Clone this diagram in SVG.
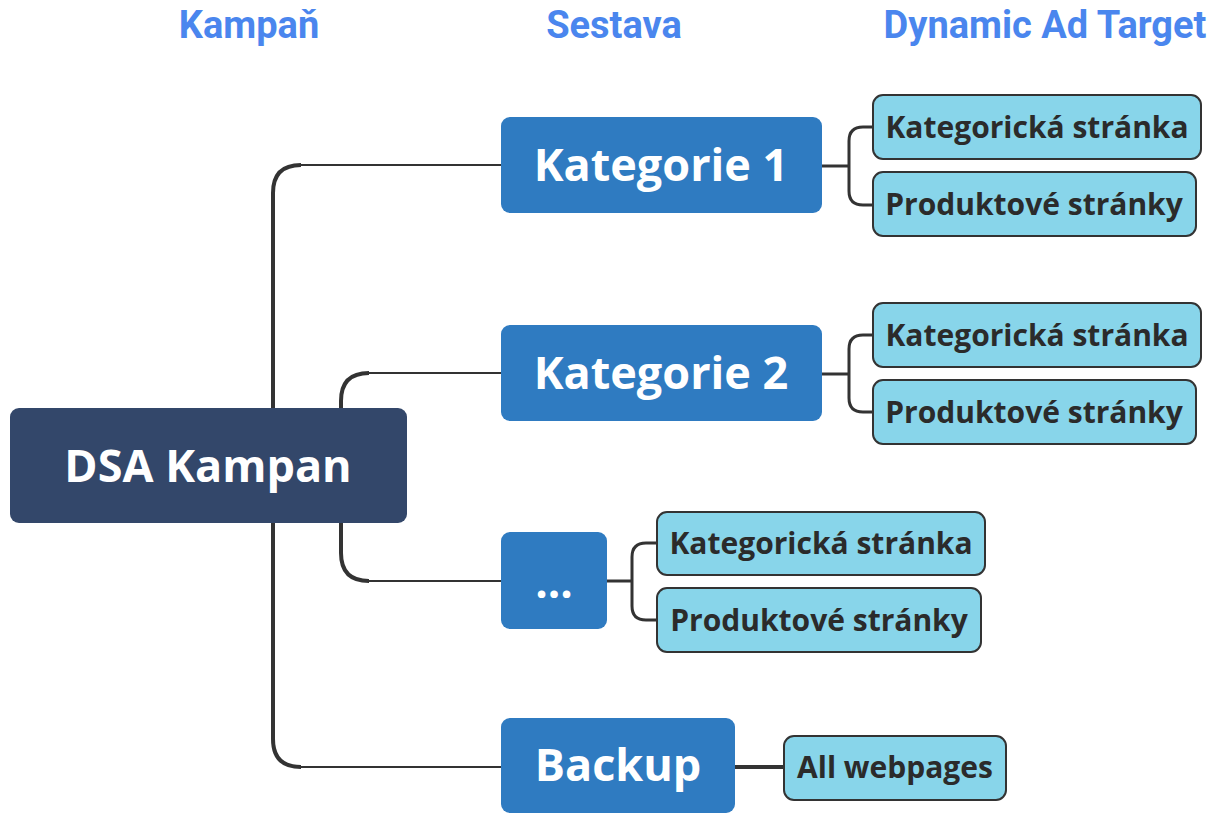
<svg xmlns="http://www.w3.org/2000/svg" width="1211" height="814" viewBox="0 0 1211 814">
<style>
.hdr{font-family:Roboto,"Liberation Sans",sans-serif;font-weight:700;font-size:38px;fill:#4a86ee;text-anchor:middle}
.root{fill:#33476a}
.lvl1{fill:#2f7bc1}
.lvl2{fill:#88d5ea;stroke:#333;stroke-width:2}
.t1{font-family:"Open Sans","Noto Sans",sans-serif;font-weight:700;font-size:45px;fill:#fff;text-anchor:middle}
.t2{font-family:"Open Sans","Noto Sans",sans-serif;font-weight:700;font-size:30px;fill:#2b2b2b;text-anchor:middle}
.trunk{fill:none;stroke:#333;stroke-width:4}
.thin{fill:none;stroke:#333;stroke-width:2.2}
.br{fill:none;stroke:#333;stroke-width:3}
</style>
<g id="headers">
<text class="hdr" x="249" y="38">Kampaň</text>
<text class="hdr" x="614" y="38">Sestava</text>
<text class="hdr" x="1045" y="38">Dynamic Ad Target</text>
</g>
<g id="connectors">
<path class="trunk" d="M273 408 V193 Q273 165 301 165"/>
<path class="thin" d="M300 165 H502"/>
<path class="trunk" d="M273 523 V739 Q273 767 301 767"/>
<path class="thin" d="M300 767 H502"/>
<path class="trunk" d="M341 408 V401 Q341 373 369 373"/>
<path class="thin" d="M368 373 H502"/>
<path class="trunk" d="M341 523 V553 Q341 581 369 581"/>
<path class="thin" d="M368 581 H502"/>
<path class="br" d="M822 166 H849"/>
<path class="br" d="M874 127 H863 Q849 127 849 141 V191 Q849 205 863 205 H874"/>
<path class="br" d="M822 374 H849"/>
<path class="br" d="M874 335 H863 Q849 335 849 349 V398 Q849 412 863 412 H874"/>
<path class="br" d="M607 581 H632"/>
<path class="br" d="M658 543 H646 Q632 543 632 557 V606 Q632 620 646 620 H658"/>
<path class="trunk" d="M735 767 H785"/>
</g>
<g id="node-dsa"><rect class="root" x="10" y="408" width="397" height="115" rx="9"/><text class="t1" x="208" y="482">DSA Kampan</text></g>
<g id="node-k1"><rect class="lvl1" x="501" y="117" width="321" height="96" rx="9"/><text class="t1" x="661" y="181">Kategorie 1</text></g>
<g id="node-k2"><rect class="lvl1" x="501" y="325" width="321" height="96" rx="9"/><text class="t1" x="661" y="389">Kategorie 2</text></g>
<g id="node-dots"><rect class="lvl1" x="501" y="532" width="106" height="97" rx="9"/><text class="t1" x="554" y="598" style="font-size:44px">...</text></g>
<g id="node-backup"><rect class="lvl1" x="501" y="718" width="234" height="95" rx="9"/><text class="t1" x="618" y="781">Backup</text></g>
<g id="node-k1a"><rect class="lvl2" x="873" y="95" width="328" height="64" rx="10"/><text class="t2" x="1037" y="138">Kategorická stránka</text></g>
<g id="node-k1b"><rect class="lvl2" x="873" y="172" width="323" height="64" rx="10"/><text class="t2" x="1034" y="215">Produktové stránky</text></g>
<g id="node-k2a"><rect class="lvl2" x="873" y="303" width="328" height="64" rx="10"/><text class="t2" x="1037" y="346">Kategorická stránka</text></g>
<g id="node-k2b"><rect class="lvl2" x="873" y="380" width="323" height="64" rx="10"/><text class="t2" x="1034" y="423">Produktové stránky</text></g>
<g id="node-da"><rect class="lvl2" x="657" y="512" width="328" height="63" rx="10"/><text class="t2" x="821" y="554">Kategorická stránka</text></g>
<g id="node-db"><rect class="lvl2" x="657" y="588" width="324" height="64" rx="10"/><text class="t2" x="819" y="631">Produktové stránky</text></g>
<g id="node-all"><rect class="lvl2" x="784" y="736" width="222" height="64" rx="10"/><text class="t2" x="895" y="778">All webpages</text></g>
</svg>
